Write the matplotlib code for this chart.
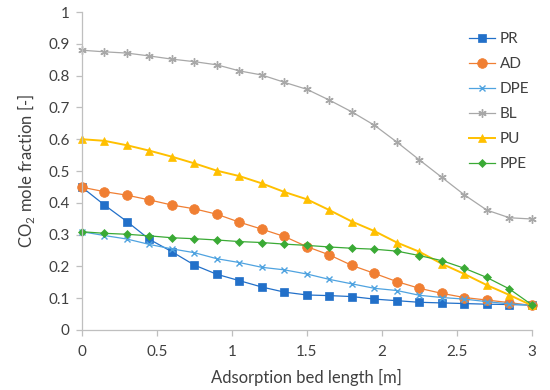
import matplotlib
matplotlib.use('Agg')
import matplotlib.pyplot as plt

plt.rcParams['font.family'] = ['Lato', 'DejaVu Sans']

# bed positions [m]
x = [0, 0.15, 0.3, 0.45, 0.6, 0.75, 0.9, 1.05, 1.2, 1.35, 1.5,
     1.65, 1.8, 1.95, 2.1, 2.25, 2.4, 2.55, 2.7, 2.85, 3.0]

pr = [0.449, 0.393, 0.341, 0.285, 0.246, 0.204, 0.175, 0.155, 0.135, 0.119, 0.110,
      0.108, 0.105, 0.097, 0.092, 0.087, 0.085, 0.083, 0.081, 0.080, 0.078]
ad = [0.449, 0.435, 0.424, 0.409, 0.393, 0.381, 0.364, 0.339, 0.317, 0.294, 0.262,
      0.236, 0.203, 0.178, 0.152, 0.131, 0.115, 0.102, 0.094, 0.086, 0.077]
dpe = [0.309, 0.297, 0.286, 0.269, 0.255, 0.243, 0.224, 0.212, 0.197, 0.189, 0.176,
       0.159, 0.145, 0.131, 0.124, 0.109, 0.102, 0.097, 0.089, 0.082, 0.078]
bl = [0.880, 0.875, 0.871, 0.862, 0.852, 0.844, 0.834, 0.815, 0.802, 0.779, 0.757,
      0.723, 0.686, 0.644, 0.591, 0.535, 0.480, 0.425, 0.377, 0.353, 0.349]
pu = [0.600, 0.595, 0.581, 0.564, 0.545, 0.524, 0.501, 0.484, 0.461, 0.434, 0.411,
      0.377, 0.341, 0.311, 0.275, 0.246, 0.208, 0.176, 0.141, 0.110, 0.077]
ppe = [0.309, 0.304, 0.301, 0.296, 0.290, 0.287, 0.283, 0.278, 0.275, 0.270, 0.266,
       0.261, 0.257, 0.254, 0.248, 0.234, 0.218, 0.194, 0.165, 0.129, 0.079]

names = ['PR', 'AD', 'DPE', 'BL', 'PU', 'PPE']

fig = plt.figure(figsize=(5.5, 3.9), dpi=100)
ax = fig.add_axes([0.149, 0.154, 0.818, 0.815])

# series: data, colour, marker, marker size, line width
styles = [
    (pr, '#2270C9', 's', 5.5, 0.9),
    (ad, '#F07F33', 'o', 7, 0.9),
    (dpe, '#4FA3E0', 'x', 5, 0.9),
    (bl, '#A8A8A8', (6, 2, 0), 6, 0.9),
    (pu, '#FFC000', '^', 6, 1.4),
    (ppe, '#3AAA35', 'D', 4.5, 0.9),
]
for name, (y, c, m, ms, lw) in zip(names, styles):
    ax.plot(x, y, color=c, marker=m, markersize=ms, linewidth=lw,
            markeredgewidth=1.0 if m in ('x', (6, 2, 0)) else 0.5, label=name)

ax.set_xlim(0, 3)
ax.set_ylim(0, 1)
ax.set_xticks([0, 0.5, 1, 1.5, 2, 2.5, 3])
ax.set_xticklabels(['0', '0.5', '1', '1.5', '2', '2.5', '3'])
ax.set_yticks([i / 10 for i in range(11)])
ax.set_yticklabels(['0', '0.1', '0.2', '0.3', '0.4', '0.5', '0.6', '0.7', '0.8', '0.9', '1'])
for ln in ax.lines:
    ln.set_clip_on(False)

for s in ['top', 'right']:
    ax.spines[s].set_visible(False)
for s in ['left', 'bottom']:
    ax.spines[s].set_color('#BFBFBF')
    ax.spines[s].set_linewidth(0.9)
ax.tick_params(colors='#BFBFBF', labelcolor='#404040', labelsize=11, length=4, width=0.9)
ax.tick_params(axis='x', pad=7)
ax.tick_params(axis='y', pad=5)

ax.set_xlabel('Adsorption bed length [m]', fontsize=12, color='#404040', labelpad=7)
ax.set_ylabel(r'CO$_\mathregular{2}$ mole fraction [-]', fontsize=12, color='#404040', labelpad=8)

leg = ax.legend(loc='upper left', bbox_to_anchor=(0.83, 0.98), frameon=False,
                fontsize=11, handlelength=1.7, labelspacing=0.72, handletextpad=0.3)
for t in leg.get_texts():
    t.set_color('#404040')

fig.savefig('out.png', dpi=100)
